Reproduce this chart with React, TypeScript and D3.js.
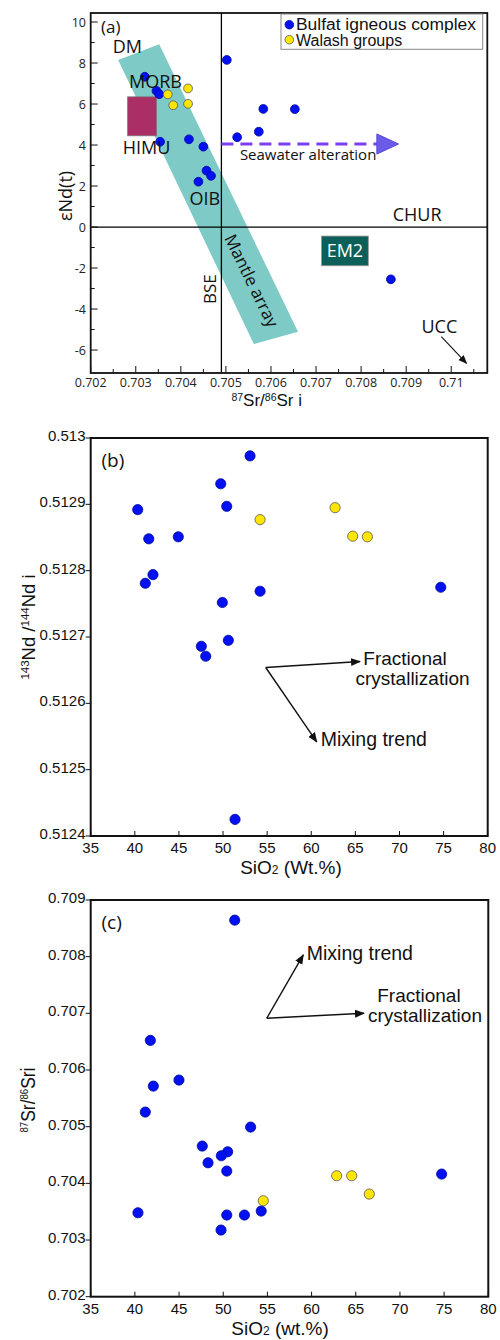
import React from 'react';
import * as d3 from 'd3';

// ---- panel (a): eNd(t) vs 87Sr/86Sr i
const aBulfatSr = [0.7032, 0.70346, 0.70352, 0.70354, 0.70418, 0.7045, 0.70457, 0.70467, 0.70439, 0.70502, 0.70525, 0.70583, 0.70653, 0.70573, 0.70866];
const aBulfatNd = [7.33, 6.64, 6.48, 4.16, 4.28, 3.92, 2.75, 2.5, 2.21, 8.15, 4.38, 5.76, 5.75, 4.65, -2.55];
const aWalashSr = [0.70371, 0.70383, 0.70416, 0.70416];
const aWalashNd = [6.47, 5.94, 6.76, 6.01];
const aXTicks = [0.702, 0.703, 0.704, 0.705, 0.706, 0.707, 0.708, 0.709, 0.71];
const aYTicks = [-6, -4, -2, 0, 2, 4, 6, 8, 10];
// mantle array band corners (Sr, Nd)
const mantleArray: [number, number][] = [[0.70261, 8.15], [0.70352, 8.91], [0.7066, -5.11], [0.70562, -5.71]];

// ---- panel (b): 143Nd/144Nd i vs SiO2
const bBulfatSi = [40.33, 41.58, 44.93, 42.06, 41.19, 49.74, 50.42, 53.06, 54.2, 49.92, 74.68, 50.6, 47.54, 48.04, 51.36];
const bBulfatNd = [0.512892, 0.512848, 0.512851, 0.512794, 0.512781, 0.512931, 0.512897, 0.512973, 0.512769, 0.512752, 0.512775, 0.512695, 0.512686, 0.512671, 0.512425];
const bWalashSi = [54.2, 62.7, 64.7, 66.36];
const bWalashNd = [0.512877, 0.512895, 0.512852, 0.512851];
const bYTicks = [0.5124, 0.5125, 0.5126, 0.5127, 0.5128, 0.5129, 0.513];

// ---- panel (c): 87Sr/86Sr i vs SiO2
const cBulfatSi = [51.3, 41.75, 42.09, 44.99, 41.18, 53.1, 47.63, 50.5, 49.78, 48.28, 50.4, 40.35, 50.4, 52.4, 54.3, 49.75, 74.72];
const cBulfatSr = [0.708644, 0.706522, 0.705716, 0.705822, 0.705258, 0.704993, 0.704658, 0.704557, 0.704487, 0.704363, 0.704217, 0.703481, 0.703441, 0.703441, 0.703511, 0.703176, 0.704164];
const cWalashSi = [62.84, 64.54, 66.53, 54.53];
const cWalashSr = [0.704134, 0.704134, 0.703811, 0.703693];
const cYTicks = [0.702, 0.703, 0.704, 0.705, 0.706, 0.707, 0.708, 0.709];

const siTicks = [35, 40, 45, 50, 55, 60, 65, 70, 75, 80];

const BLUE = '#0010f0';
const YELLOW = '#ffe600';
const OPEN = "'Open Sans', 'DejaVu Sans', sans-serif";
const ARIAL = "'Liberation Sans', Arial, sans-serif";

const xA = d3.scaleLinear().domain([0.702, 0.7108]).range([90.7, 487.3]);
const yA = d3.scaleLinear().domain([-7.12, 10.44]).range([373, 13]);
const xB = d3.scaleLinear().domain([35, 80]).range([90.7, 487.7]);
const yB = d3.scaleLinear().domain([0.5124, 0.513]).range([836, 438]);
const xC = d3.scaleLinear().domain([35, 80]).range([90.7, 488.3]);
const yC = d3.scaleLinear().domain([0.702, 0.709]).range([1296.7, 900]);

const Dots = ({ xs, ys, x, y, fill, stroke, r }: any) => (
  <g>
    {xs.map((v: number, i: number) => (
      <circle key={i} cx={x(v)} cy={y(ys[i])} r={r} fill={fill} stroke={stroke} strokeWidth={0.8} />
    ))}
  </g>
);

const PanelA = () => {
  const [x0, x1] = xA.range();
  const [y0, y1] = yA.range();
  const band = d3.line()(mantleArray.map(([s, n]) => [xA(s), yA(n)]) as [number, number][]) + 'Z';
  const minorX = aXTicks.map(t => t + 0.0005).filter(t => t < 0.7108);
  const minorY = aYTicks.map(t => t + 1).filter(t => t < 10.44);
  return (
    <g>
      <path d={band} fill="#7ecac7" />
      <rect x={xA(0.70282)} y={yA(6.35)} width={xA(0.70346) - xA(0.70282)} height={yA(4.45) - yA(6.35)} fill="#ab2f66" stroke="#777" strokeWidth={0.8} />
      <rect x={xA(0.70712)} y={yA(-0.44)} width={xA(0.70816) - xA(0.70712)} height={yA(-1.89) - yA(-0.44)} fill="#0d5f5a" stroke="#999" strokeWidth={0.8} />
      <line x1={xA(0.7049)} x2={xA(0.7049)} y1={y1} y2={y0} stroke="#000" strokeWidth={1.3} />
      <line x1={x0} x2={x1} y1={yA(0)} y2={yA(0)} stroke="#000" strokeWidth={1.3} />
      {/* seawater alteration arrow */}
      <line x1={xA(0.7049)} x2={xA(0.70835)} y1={yA(4.05)} y2={yA(4.05)} stroke="#7b3ff2" strokeWidth={3} strokeDasharray="12 7" />
      <path d={`M${xA(0.70835)},${yA(4.54)}L${xA(0.70883)},${yA(4.05)}L${xA(0.70835)},${yA(3.56)}Z`} fill="#6b5be6" stroke="#5546d6" strokeWidth={1} />
      <Dots xs={aBulfatSr} ys={aBulfatNd} x={xA} y={yA} fill={BLUE} stroke="#0008a0" r={4.4} />
      <Dots xs={aWalashSr} ys={aWalashNd} x={xA} y={yA} fill={YELLOW} stroke="#555" r={4.4} />
      {/* frame and ticks */}
      <rect x={x0} y={y1} width={x1 - x0} height={y0 - y1} fill="none" stroke="#111" strokeWidth={1.8} />
      {aXTicks.map(t => (
        <g key={t}>
          <line x1={xA(t)} x2={xA(t)} y1={y0} y2={y0 - 7} stroke="#111" strokeWidth={1} />
          <text x={xA(t)} y={387} textAnchor="middle" fontSize={12.5} fontFamily={OPEN} fill="#222">{String(t)}</text>
        </g>
      ))}
      {minorX.map(t => <line key={t} x1={xA(t)} x2={xA(t)} y1={y0} y2={y0 - 4} stroke="#111" strokeWidth={1} />)}
      {aYTicks.map(t => (
        <g key={t}>
          <line x1={x0} x2={x0 + 7} y1={yA(t)} y2={yA(t)} stroke="#111" strokeWidth={1} />
          <text x={86} y={yA(t) + 4.5} textAnchor="end" fontSize={12.5} fontFamily={OPEN} fill="#222">{t}</text>
        </g>
      ))}
      {minorY.map(t => <line key={t} x1={x0} x2={x0 + 4} y1={yA(t)} y2={yA(t)} stroke="#111" strokeWidth={1} />)}
      {/* labels */}
      <g fontFamily={OPEN} fontSize={18} fill="#111">
        <text x={101} y={33} fontSize={17}>(a)</text>
        <text x={xA(0.70249)} y={yA(8.47)}>DM</text>
        <text x={xA(0.70285)} y={yA(6.77)}>MORB</text>
        <text x={xA(0.70271)} y={yA(3.55)}>HIMU</text>
        <text x={xA(0.70419)} y={yA(1.07)}>OIB</text>
        <text x={xA(0.7087)} y={yA(0.29)}>CHUR</text>
        <text x={xA(0.70764)} y={yA(-1.45)} textAnchor="middle" fill="#fff">EM2</text>
        <text x={xA(0.70934)} y={yA(-5.17)}>UCC</text>
        <text x={xA(0.70531)} y={yA(3.27)} fontSize={15}>Seawater alteration</text>
        <text transform={`translate(${xA(0.70479)},${yA(-3.03)}) rotate(-90)`} textAnchor="middle" fontSize={17}>BSE</text>
        <text transform={`translate(${xA(0.70541)},${yA(-2.79)}) rotate(64)`} textAnchor="middle" fontSize={17} dy={-2}>Mantle array</text>
      </g>
      <line x1={xA(0.70978)} y1={yA(-5.35)} x2={xA(0.71034)} y2={yA(-6.65)} stroke="#111" strokeWidth={1.1} markerEnd="url(#arrowSmall)" />
      {/* legend */}
      <rect x={281} y={14} width={201.7} height={35.3} fill="#fff" stroke="#888" strokeWidth={1} />
      <circle cx={289.3} cy={24.7} r={4.3} fill={BLUE} stroke="#0008a0" strokeWidth={0.8} />
      <circle cx={289.3} cy={39.7} r={4.3} fill={YELLOW} stroke="#555" strokeWidth={0.8} />
      <text x={296} y={30} fontSize={16} fontFamily={ARIAL} fill="#111" textLength={180} lengthAdjust="spacingAndGlyphs">Bulfat igneous complex</text>
      <text x={296} y={45.5} fontSize={16} fontFamily={ARIAL} fill="#111">Walash groups</text>
      {/* axis titles */}
      <text transform="translate(72,196) rotate(-90)" textAnchor="middle" fontSize={18} fontFamily={OPEN} fill="#111">εNd(t)</text>
      <text x={266.7} y={406} textAnchor="middle" fontSize={17} fontFamily={ARIAL} fill="#111">
        <tspan fontSize={10.5} dy={-5}>87</tspan><tspan dy={5}>Sr/</tspan><tspan fontSize={10.5} dy={-5}>86</tspan><tspan dy={5}>Sr i</tspan>
      </text>
    </g>
  );
};

const SiPanel = ({ x, y, yTicks, bx, by, wx, wy, label, yTitle, xTitle, ann }: any) => {
  const [x0, x1] = x.range();
  const [y0, y1] = y.range();
  return (
    <g>
      <Dots xs={bx} ys={by} x={x} y={y} fill={BLUE} stroke="#0008a0" r={5.1} />
      <Dots xs={wx} ys={wy} x={x} y={y} fill={YELLOW} stroke="#555" r={5.1} />
      <rect x={x0} y={y1} width={x1 - x0} height={y0 - y1} fill="none" stroke="#111" strokeWidth={2} />
      {siTicks.map((t: number) => (
        <g key={t}>
          <line x1={x(t)} x2={x(t)} y1={y0} y2={y0 - 5} stroke="#111" strokeWidth={1} />
          <text x={x(t)} y={y0 + 17} textAnchor="middle" fontSize={15} fontFamily={ARIAL} fill="#111">{t}</text>
        </g>
      ))}
      {yTicks.map((t: number) => (
        <g key={t}>
          <line x1={x0 - 5} x2={x0} y1={y(t)} y2={y(t)} stroke="#111" strokeWidth={1} />
          <text x={85.5} y={y(t) + 3} textAnchor="end" fontSize={15} fontFamily={ARIAL} fill="#111">{String(t)}</text>
        </g>
      ))}
      <text x={101.5} y={y1 + 29} fontSize={19} fontFamily={OPEN} fill="#111">{label}</text>
      {/* trend arrows */}
      <g stroke="#111" strokeWidth={1.4}>
        <line x1={x(ann.o[0])} y1={y(ann.o[1])} x2={x(ann.f[0])} y2={y(ann.f[1])} markerEnd="url(#arrowBig)" />
        <line x1={x(ann.o[0])} y1={y(ann.o[1])} x2={x(ann.m[0])} y2={y(ann.m[1])} markerEnd="url(#arrowBig)" />
      </g>
      <g fontFamily={ARIAL} fontSize={19} fill="#111">
        <text x={x(ann.mt[0])} y={y(ann.mt[1])} fontSize={19.5}>Mixing trend</text>
        <text x={x(ann.ft[0])} y={y(ann.ft[1])} textAnchor="middle" dy={-1.5}>Fractional</text>
        <text x={x(ann.ct[0])} y={y(ann.ct[1])} textAnchor="middle" dy={0.8}>crystallization</text>
      </g>
      {yTitle}
      <text x={xTitle.x} y={y0 + 38} textAnchor="middle" fontSize={19} fontFamily={ARIAL} fill="#111">
        SiO<tspan fontSize={12}>2</tspan> ({xTitle.unit}.%)
      </text>
    </g>
  );
};

export default function App() {
  return (
    <svg width={500} height={1340} style={{ position: 'absolute', left: 0, top: 0, background: '#fff' }}>
      <defs>
        <marker id="arrowBig" viewBox="0 0 10 10" refX={9} refY={5} markerWidth={10} markerHeight={10} markerUnits="userSpaceOnUse" orient="auto">
          <path d="M0,1L10,5L0,9Z" fill="#111" />
        </marker>
        <marker id="arrowSmall" viewBox="0 0 10 10" refX={9} refY={5} markerWidth={9} markerHeight={9} markerUnits="userSpaceOnUse" orient="auto">
          <path d="M0,1L10,5L0,9Z" fill="#111" />
        </marker>
      </defs>
      <rect width={500} height={1340} fill="#fff" />
      <PanelA />
      <SiPanel
        x={xB} y={yB} yTicks={bYTicks}
        bx={bBulfatSi} by={bBulfatNd} wx={bWalashSi} wy={bWalashNd}
        label="(b)"
        xTitle={{ x: 291, unit: 'Wt' }}
        ann={{ o: [54.84, 0.512654], f: [65.53, 0.512663], m: [60.62, 0.512542], mt: [61.07, 0.512536], ft: [70.63, 0.512655], ct: [71.48, 0.512629] }}
        yTitle={
          <text transform="translate(35,627) rotate(-90)" textAnchor="middle" fontSize={18.5} fontFamily={ARIAL} fill="#111">
            <tspan fontSize={11.5} dy={-6}>143</tspan><tspan dy={6}>Nd /</tspan><tspan fontSize={11.5} dy={-6}>144</tspan><tspan dy={6}>Nd i</tspan>
          </text>
        }
      />
      <SiPanel
        x={xC} y={yC} yTicks={cYTicks}
        bx={cBulfatSi} by={cBulfatSr} wx={cWalashSi} wy={cWalashSr}
        label="(c)"
        xTitle={{ x: 280, unit: 'wt' }}
        ann={{ o: [54.92, 0.706913], f: [65.93, 0.707001], m: [59.06, 0.70803], mt: [59.45, 0.707947], ft: [72.15, 0.707165], ct: [72.83, 0.706854] }}
        yTitle={
          <text transform="translate(35,1100) rotate(-90)" textAnchor="middle" fontSize={20} fontFamily="'Liberation Sans Narrow', 'Liberation Sans', sans-serif" fill="#111" textLength={65} lengthAdjust="spacingAndGlyphs">
            <tspan fontSize={11} dy={-7}>87</tspan><tspan dy={7}>Sr/</tspan><tspan fontSize={11} dy={-7}>86</tspan><tspan dy={7}>Sri</tspan>
          </text>
        }
      />
    </svg>
  );
}
